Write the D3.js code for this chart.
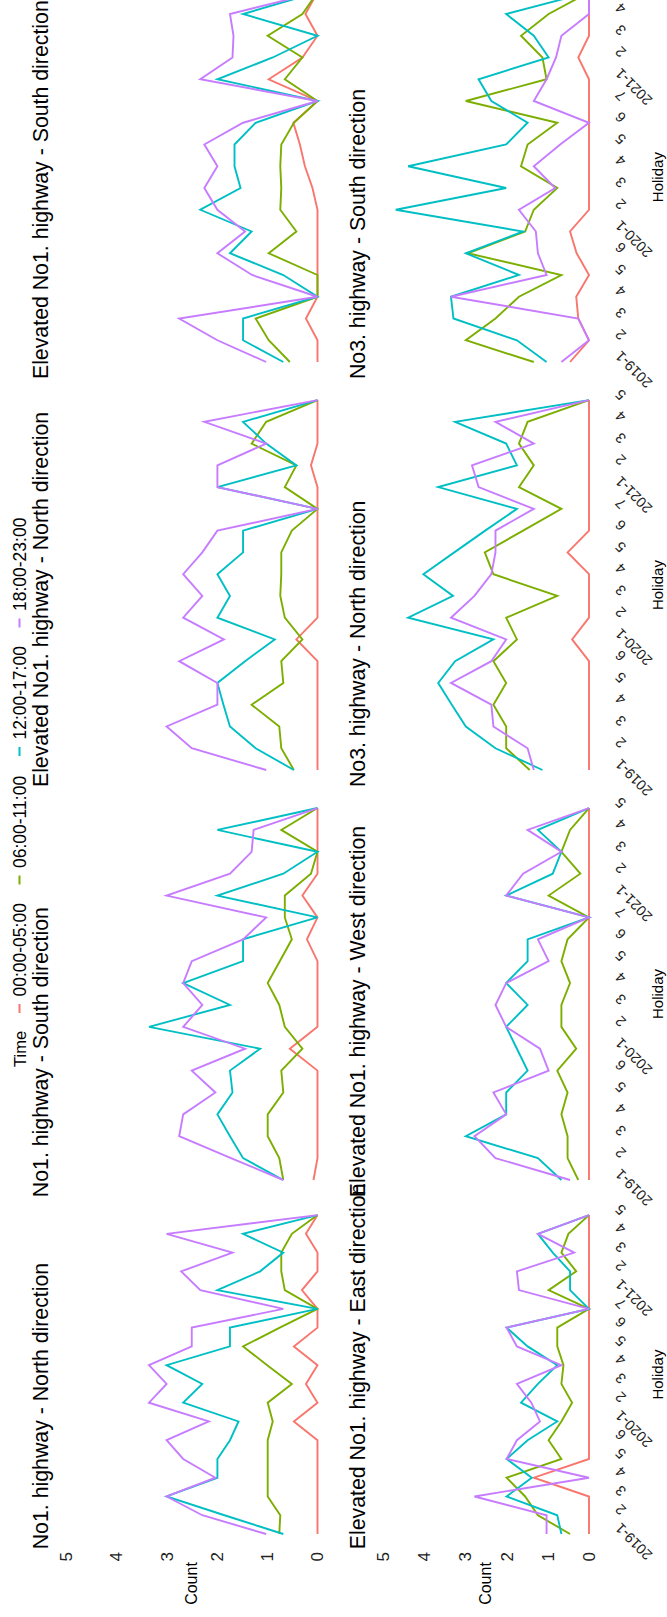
<!DOCTYPE html>
<html><head><meta charset="utf-8">
<script src="https://cdn.jsdelivr.net/npm/d3@7"></script>
<style>
body{margin:0;background:#fff}
svg{display:block}
text{font-family:"Liberation Sans",Arial,Helvetica,sans-serif}
</style>
</head><body>
<svg id="chart" width="667" height="1617"></svg>
<script>
// ---------------- DATA ----------------
const categories = ["2019-1","2019-2","2019-3","2019-4","2019-5","2019-6",
  "2020-1","2020-2","2020-3","2020-4","2020-5","2020-6","2020-7",
  "2021-1","2021-2","2021-3","2021-4","2021-5"];
const tickLabels = ["2019-1","2","3","4","5","6","2020-1","2","3","4","5","6","7","2021-1","2","3","4","5"];
const timeSeries = ["00:00-05:00","06:00-11:00","12:00-17:00","18:00-23:00"];
const countTicks = [0,1,2,3,4,5];
const facetTitles = ["No1. highway - North direction","No1. highway - South direction",
  "Elevated No1. highway - North direction","Elevated No1. highway - South direction",
  "Elevated No1. highway - East direction","Elevated No1. highway - West direction",
  "No3. highway - North direction","No3. highway - South direction"];

// each: [00-05, 06-11, 12-17, 18-23]
const no1North = [
  [0,0,0,0,0,0,0.47,0,0.23,0,0.47,0,0,0.31,0,0,0.23,0],
  [0.76,0.74,0.99,0.99,0.99,0.99,0.89,0.99,0.51,1.0,1.48,0.75,0,0.65,0.72,0.72,0.51,0],
  [0.68,1.85,3.0,1.99,1.99,1.74,1.57,2.67,2.29,3.0,1.74,1.74,0,1.99,1.14,0.68,1.48,0],
  [1.02,2.29,3.0,2.03,2.67,3.0,2.16,3.35,3.0,3.35,2.5,2.5,0.68,2.33,2.71,1.69,3.0,0]];
const no1South = [
  [0.08,0,0,0,0,0,0.55,0,0,0,0,0.21,0,0.3,0,0,0,0],
  [0.68,0.76,0.99,0.99,0.68,0.72,0.30,0.65,0.76,0.99,0.75,0.51,0.65,0.65,0.13,0,0.72,0],
  [0.68,1.48,1.74,1.99,1.69,1.74,1.14,3.35,1.74,2.67,1.48,1.48,0,1.99,0.68,0,1.99,0],
  [0.68,1.72,2.75,2.67,2.03,2.5,1.44,2.67,2.29,2.67,2.5,1.48,1.02,3.0,1.74,1.31,1.27,0]];
const elevNorth = [
  [0,0,0,0,0,0,0.42,0,0,0,0,0,0,0,0.13,0,0,0],
  [0.47,0.72,0.76,1.31,0.68,0.72,0.30,0.65,0.74,0.72,0.72,0.51,0,0.65,0.42,1.31,1.02,0],
  [0.47,1.23,1.74,1.87,1.99,1.44,0.85,1.99,1.74,1.99,1.48,1.48,0,1.99,0.42,1.02,1.48,0],
  [1.02,2.5,3.0,1.99,1.99,2.75,1.86,2.67,2.29,2.67,2.29,1.99,0,1.99,1.99,1.02,2.25,0]];
const elevSouth = [
  [0,0,0.23,0,0,0,0,0,0.1,0.25,0.35,0.48,0,0.97,0.3,0,0.24,0],
  [0.55,0.97,1.23,0,0,0.97,0.42,0.74,0.72,0.74,0.72,0.47,0,0.65,0.3,0.99,0.3,0],
  [0.68,1.48,1.48,0,0.68,1.74,1.31,2.33,1.53,1.65,1.65,1.23,0,1.99,0.89,0,1.48,0],
  [1.02,1.99,2.75,0,1.3,1.99,1.44,1.99,2.25,1.99,2.25,1.48,0,2.33,1.69,1.67,1.74,0]];
const elevEast = [
  [0,0,0,1.34,0,0,0,0,0,0,0,0,0,0,0,0,0,0],
  [0.46,1.24,1.55,2.0,0.67,0.98,0.67,0.41,0.67,0.62,0.77,0.77,0,0.98,0.31,0.67,0.5,0],
  [0.67,0.77,2.0,1.39,2.0,1.49,0.77,1.65,1.24,0.77,1.49,2.0,0,0.46,0.46,0.88,1.24,0],
  [1.03,1.03,2.78,0,2.0,1.75,1.19,1.4,1.75,0.67,1.75,2.0,0,1.7,1.75,0.36,1.24,0]];
const elevWest = [
  [0,0,0,0,0,0,0,0,0,0,0,0,0,0,0,0,0,0],
  [0.26,0.52,0.52,0.67,0.52,0.77,0.31,0.67,0.67,0.46,0.67,0.52,0,0.98,0.21,0.67,0.46,0],
  [0.67,1.24,2.99,2.01,2.01,1.49,1.75,2.01,1.49,2.01,1.49,1.49,0,2.01,0.88,0.67,1.24,0],
  [0.46,2.27,2.78,2.01,2.32,0.98,1.19,2.01,2.27,2.01,0.98,1.24,0,2.01,1.6,0.67,1.49,0]];
const no3North = [
  [0,0,0,0,0,0,0.41,0,0,0,0.52,0,0,0,0,0,0,0],
  [1.44,2.01,2.01,2.32,2.01,2.32,1.75,2.01,0.77,2.32,2.53,1.6,0.67,1.7,1.34,1.7,1.49,0],
  [1.13,2.27,2.99,3.33,3.66,3.25,2.32,4.39,3.3,4.02,3.27,2.52,1.75,3.66,1.75,2.01,3.25,0],
  [1.34,1.49,2.32,2.37,3.35,2.37,2.01,3.35,2.78,2.37,2.27,2.27,1.34,2.68,2.84,1.34,2.27,0]];
const no3South = [
  [0.46,0,0.26,0.31,0,0.3,0.46,0,0,0,0,0,0,0,0.26,0,0,0],
  [1.34,2.99,2.27,1.7,0.67,2.94,1.55,1.34,0.77,1.65,1.49,0.77,2.99,1.03,1.13,1.65,0.98,0],
  [1.03,1.75,3.29,3.35,1.7,2.99,1.6,4.69,2.01,4.39,2.01,1.49,2.37,2.68,0.98,1.34,2.01,0],
  [0.67,0,0.26,3.35,1.03,1.24,1.29,1.7,0.82,1.34,0.7,0,1.34,1.03,0.8,0.67,0,0]];

const facetData = [no1North,no1South,elevNorth,elevSouth,elevEast,elevWest,no3North,no3South];

// ---------------- LAYOUT (original, un-rotated 1617 x 667 frame) ----------------
const W = 1617;
const colors = ["#F8766D","#7CAE00","#00BFC4","#C77CFF"];
const colFirst = [83, 437, 847, 1255];
const colStep = [18.76, 21.88, 21.76, 21.75];
const rowZero = [317.5, 589];
const rowUnit = [50.3, 41.2];

const svg = d3.select("#chart");
const root = svg.append("g").attr("transform", `translate(0,${W}) rotate(-90)`);

const xScales = colFirst.map((f, c) => d3.scalePoint().domain(categories)
  .range([f, f + (categories.length - 1) * colStep[c]]));
const yScales = rowZero.map((z, r) => d3.scaleLinear().domain([0, 5])
  .range([z, z - 5 * rowUnit[r]]));

// Legend
const legend = root.append("g");
legend.append("text").attr("x", 550).attr("y", 26).attr("font-size", 16.5)
  .attr("fill", "#000").text("Time");
const keyX = d3.scalePoint().domain(timeSeries).range([608.5, 994]);
const items = legend.selectAll("g.item").data(timeSeries).join("g").attr("class", "item");
items.append("line")
  .attr("x1", d => keyX(d) - 4.5).attr("x2", d => keyX(d) + 4.5)
  .attr("y1", 19.5).attr("y2", 19.5)
  .attr("stroke", (d, i) => colors[i]).attr("stroke-width", 2);
items.append("text").attr("x", d => keyX(d) + 12).attr("y", 26)
  .attr("font-size", 17.5).attr("fill", "#000").text(d => d);

// Facets
facetData.forEach((series, k) => {
  const col = k % 4, row = Math.floor(k / 4);
  const x = xScales[col], y = yScales[row];
  const g = root.append("g");
  const x0 = x.range()[0] - 0.6 * colStep[col];
  g.append("text").attr("x", x0 - 4).attr("y", row === 0 ? 48 : 365)
    .attr("font-size", 21.3).attr("fill", "#000").text(facetTitles[k]);
  const line = d3.line().x((d, i) => x(categories[i])).y(d => y(d));
  g.selectAll("path.series").data(series).join("path").attr("class", "series")
    .attr("d", d => line(d)).attr("fill", "none")
    .attr("stroke", (d, i) => colors[i]).attr("stroke-width", 1.9)
    .attr("stroke-linejoin", "miter");
});

// Count axes (one per row, at left)
yScales.forEach((y, r) => {
  const ax = root.append("g").attr("transform", "translate(68,0)")
    .call(d3.axisLeft(y).tickValues(countTicks).tickSize(0).tickPadding(3)
      .tickFormat(d3.format("d")));
  ax.select(".domain").remove();
  ax.selectAll("text").attr("font-size", 17).attr("fill", "#222")
    .attr("font-family", "Liberation Sans, Arial, sans-serif");
  root.append("text").attr("x", 33.5).attr("y", (y(0) + y(5)) / 2 + 5)
    .attr("text-anchor", "middle").attr("font-size", 16).attr("fill", "#000").text("Count");
});

// Holiday axes (bottom of row 2, one per column)
xScales.forEach((x, c) => {
  const visible = categories.filter(d => x(d) < W - 4);
  const ax = root.append("g").attr("transform", "translate(0,611)")
    .call(d3.axisBottom(x).tickValues(visible).tickSize(0).tickPadding(0)
      .tickFormat(d => tickLabels[categories.indexOf(d)]));
  ax.select(".domain").remove();
  ax.selectAll("text").attr("font-size", 14.5).attr("fill", "#222")
    .attr("font-family", "Liberation Sans, Arial, sans-serif")
    .attr("text-anchor", "end").attr("dy", null)
    .attr("transform", "translate(4,3) rotate(-45)").attr("y", 0).attr("x", 0)
    .attr("dominant-baseline", "hanging");
  const r = x.range();
  root.append("text").attr("x", (r[0] + r[1]) / 2).attr("y", 663)
    .attr("text-anchor", "middle").attr("font-size", 15).attr("fill", "#000").text("Holiday");
});
</script>
</body></html>
